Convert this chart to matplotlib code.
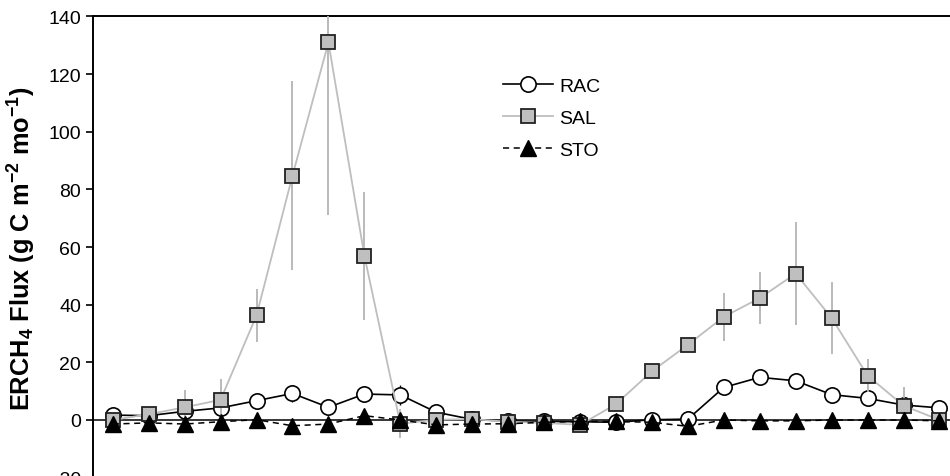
import numpy as np
import matplotlib
matplotlib.use("Agg")
import matplotlib.pyplot as plt

plt.rcParams['font.family'] = ['Liberation Sans', 'DejaVu Sans']
plt.rcParams['mathtext.fontset'] = 'custom'
plt.rcParams['mathtext.rm'] = 'Liberation Sans:bold'
plt.rcParams['mathtext.default'] = 'rm'
plt.rcParams['axes.unicode_minus'] = False

# monthly index (24 months)
months = np.arange(24)

# RAC
rac = [1.7, 1.5, 3.0, 4.2, 6.7, 9.2, 4.4, 9.0, 8.7, 2.7, 0.2, -0.4,
       -0.5, -0.6, -0.8, 0.1, 0.3, 11.3, 14.8, 13.6, 8.8, 7.5, 5.2, 4.2]
rac_err = [0.5, 1.0, 0.8, 1.0, 1.0, 3.0, 0.8, 1.0, 3.5, 0.8, 0.3, 0.3,
           0.3, 0.3, 0.3, 0.3, 0.3, 1.0, 1.0, 1.0, 1.0, 1.0, 1.0, 0.5]

# SAL
sal = [0.0, 2.0, 4.4, 7.0, 36.3, 84.8, 131.0, 57.0, -1.3, 0.1, 0.3, -0.6,
       -1.0, -1.7, 5.5, 16.9, 26.1, 35.8, 42.3, 50.8, 35.4, 15.4, 5.0, 0.0]
sal_err = [1.0, 2.0, 6.0, 7.3, 9.3, 32.7, 60.0, 22.2, 5.0, 1.0, 0.5, 0.5,
           0.5, 0.5, 1.0, 1.0, 1.0, 8.3, 9.0, 18.0, 12.4, 5.8, 6.4, 1.0]

# STO
sto = [-1.4, -1.0, -1.4, -0.6, 0.1, -2.0, -1.4, 1.5, 0.0, -1.7, -1.4, -1.3,
       -0.8, -0.5, -0.5, -0.8, -2.2, 0.0, -0.3, -0.3, 0.0, 0.0, 0.0, -0.3]

fig = plt.figure(figsize=(9.5, 4.77), dpi=100)
ax = fig.add_axes([0.0979, -0.1243, 0.9137, 1.0877])

ax.axhline(0, color="black", lw=1.1, zorder=1)

# RAC
ax.errorbar(months, rac, yerr=rac_err, fmt="none", ecolor="black", elinewidth=1.0, zorder=2)
ax.plot(months, rac, color="black", lw=1.2, marker="o", ms=11,
        mfc="white", mec="black", mew=1.2, label="RAC", zorder=3)

# SAL
ax.errorbar(months, sal, yerr=sal_err, fmt="none", ecolor="#b4b4b4", elinewidth=1.3, zorder=4)
ax.plot(months, sal, color="#bebebe", lw=1.3, marker="s", ms=10.5,
        mfc="#bfbfbf", mec="#222222", mew=1.3, label="SAL", zorder=5)

# STO
ax.plot(months, sto, color="black", lw=1.1, ls=(0, (4, 3)), marker="^", ms=11,
        mfc="black", mec="black", label="STO", zorder=6)

ax.set_xlim(-0.55, 23.6)
ax.set_ylim(-40, 140)
ax.set_yticks(range(-20, 141, 20))
ax.set_xticks([])
ax.tick_params(axis="y", direction="out", length=5, width=1.2, labelsize=14)
for s in ax.spines.values():
    s.set_linewidth(1.4)

ax.set_ylabel("ERCH$_4$ Flux (g C m$^{-2}$ mo$^{-1}$)", fontsize=18.3, fontweight="bold")
ax.yaxis.set_label_coords(-0.0634, 0.554)

ax.legend(loc="upper left", bbox_to_anchor=(0.452, 0.917), frameon=False,
          fontsize=14, handlelength=2.6, labelspacing=0.75, handletextpad=0.3)

fig.savefig("out.png", dpi=100)
